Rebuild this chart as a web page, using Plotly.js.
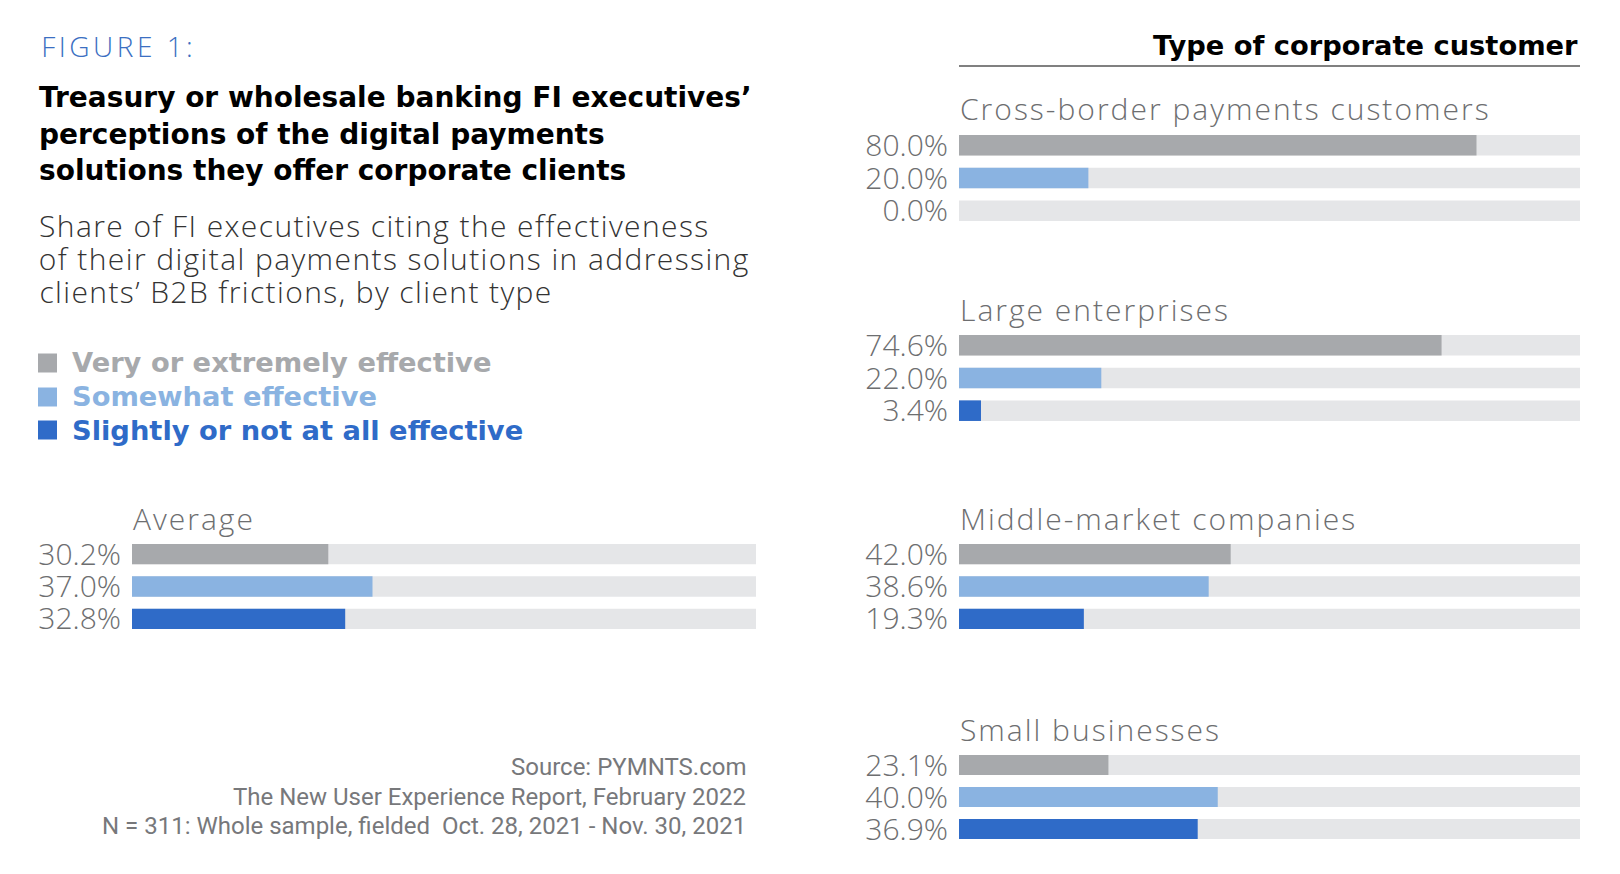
<!DOCTYPE html>
<html>
<head>
<meta charset="utf-8">
<script src="https://cdn.plot.ly/plotly-3.0.1.min.js"></script>
<style>
  html, body { margin: 0; padding: 0; background: #fff; }
  #chart { width: 1620px; height: 874px; }
</style>
</head>
<body>
<div id="chart"></div>
<script>
// chart values
const groups = ['Average', 'Cross-border payments customers', 'Large enterprises', 'Middle-market companies', 'Small businesses'];
const seriesNames = ['Very or extremely effective', 'Somewhat effective', 'Slightly or not at all effective'];
const veryValues = [30.2, 80.0, 74.6, 42.0, 23.1];
const somewhatValues = [37.0, 20.0, 22.0, 38.6, 40.0];
const slightlyValues = [32.8, 0.0, 3.4, 19.3, 36.9];

const titleLines = ['Treasury or wholesale banking FI executives’', 'perceptions of the digital payments', 'solutions they offer corporate clients'];
const subtitleLines = ['Share of FI executives citing the effectiveness', 'of their digital payments solutions in addressing', 'clients’ B2B frictions, by client type'];
const sourceLines = ['Source: PYMNTS.com', 'The New User Experience Report, February 2022', 'N = 311: Whole sample, fielded  Oct. 28, 2021 - Nov. 30, 2021'];

const seriesColors = ['#a7a9ac', '#8ab3e1', '#2f6bc8'];
const trackColor = '#e5e6e8';
const labelGray = '#6d6e70';

const W = 1620, H = 874;
const px = x => x / W;
const py = y => 1 - y / H;

// top/bottom pixel of each group's bar block, and its horizontal span
const groupBox = [
  { top: 538, bottom: 635, left: 132, right: 756 },
  { top: 129, bottom: 227, left: 959, right: 1580 },
  { top: 329, bottom: 427, left: 959, right: 1580 },
  { top: 538, bottom: 635, left: 959, right: 1580 },
  { top: 749, bottom: 845, left: 959, right: 1580 }
];
const xMax = 96;

const traces = [];
const layout = {
  width: W, height: H,
  margin: { l: 0, r: 0, t: 0, b: 0 },
  paper_bgcolor: '#fff',
  plot_bgcolor: '#fff',
  barmode: 'overlay',
  showlegend: false,
  annotations: [],
  shapes: []
};

// letter-spaced labels: plotly measures them unspaced and centres the
// text in its box, so push them back by half the added width
const spacingCss = [];
function addText(x, y, text, font, xanchor, spacing) {
  const anchor = xanchor || 'left';
  let shift = 0;
  if (spacing) {
    const extra = text.length * spacing / 2;
    shift = anchor === 'left' ? extra : -extra;
    spacingCss.push(`g.annotation[data-index="${layout.annotations.length}"] text { letter-spacing: ${spacing}px; }`);
  }
  layout.annotations.push({
    xref: 'paper', yref: 'paper', x: px(x), y: py(y), xshift: shift,
    xanchor: anchor, yanchor: 'middle',
    text: text, showarrow: false, font: font
  });
}

groups.forEach((g, i) => {
  const ax = i === 0 ? '' : String(i + 1);
  const vals = [veryValues[i], somewhatValues[i], slightlyValues[i]];
  const box = groupBox[i];
  traces.push({
    type: 'bar', orientation: 'h',
    x: [xMax, xMax, xMax], y: [0, 1, 2],
    width: 0.63,
    marker: { color: trackColor },
    xaxis: 'x' + ax, yaxis: 'y' + ax
  });
  traces.push({
    type: 'bar', orientation: 'h',
    x: vals, y: [0, 1, 2],
    width: 0.63,
    marker: { color: seriesColors },
    name: g,
    xaxis: 'x' + ax, yaxis: 'y' + ax
  });
  layout['xaxis' + ax] = {
    domain: [px(box.left), px(box.right)],
    range: [0, xMax], visible: false, fixedrange: true,
    anchor: 'y' + ax
  };
  layout['yaxis' + ax] = {
    domain: [py(box.bottom), py(box.top)],
    range: [2.5, -0.5],
    tickmode: 'array', tickvals: [0, 1, 2],
    ticktext: vals.map(v => v.toFixed(1) + '%'),
    ticks: '', showgrid: false, zeroline: false, showline: false,
    automargin: false, ticklabelstandoff: 10,
    tickfont: { family: 'Open Sans, sans-serif', size: 30, color: labelGray, weight: 300 },
    anchor: 'x' + ax, fixedrange: true
  };
  addText(box.left - 1, box.top - 20, g,
    { family: 'Open Sans, sans-serif', size: 30, color: labelGray, weight: 300 }, 'left', 2);
});

addText(39, 46, 'FIGURE 1:', { family: 'Open Sans, sans-serif', size: 28, color: '#3b6fc2', weight: 300 }, 'left', 3.5);

const titleFont = { family: 'DejaVu Sans, sans-serif', size: 28, color: '#000', weight: 700 };
[97, 134, 170].forEach((y, i) => addText(37, y, titleLines[i], titleFont));
addText(1580, 45, 'Type of corporate customer',
  { family: 'DejaVu Sans, sans-serif', size: 27.3, color: '#000', weight: 700 }, 'right');

const subFont = { family: 'Open Sans, sans-serif', size: 30, color: '#333', weight: 300 };
[225, 258, 291].forEach((y, i) => addText(37, y, subtitleLines[i], subFont, 'left', 1.4));

const srcFont = { family: 'Roboto, sans-serif', size: 24, color: '#77787b' };
[767, 797, 826].forEach((y, i) => addText(748, y, sourceLines[i], srcFont, 'right'));

layout.shapes.push({
  type: 'line', xref: 'paper', yref: 'paper',
  x0: px(959), x1: px(1580), y0: py(66), y1: py(66),
  line: { color: '#808080', width: 2 }
});

// legend swatches + labels
const legendRows = [363, 397, 430];
seriesNames.forEach((s, i) => {
  layout.shapes.push({
    type: 'rect', xref: 'paper', yref: 'paper',
    x0: px(38), x1: px(57), y0: py(legendRows[i] - 9.5), y1: py(legendRows[i] + 9.5),
    fillcolor: seriesColors[i], line: { width: 0 }
  });
  addText(70, legendRows[i], s,
    { family: 'DejaVu Sans, sans-serif', size: 27.3, color: seriesColors[i], weight: 700 });
});

const style = document.createElement('style');
style.textContent = spacingCss.join('\n');
document.head.appendChild(style);

Plotly.newPlot('chart', traces, layout, { staticPlot: true });
</script>
</body>
</html>
